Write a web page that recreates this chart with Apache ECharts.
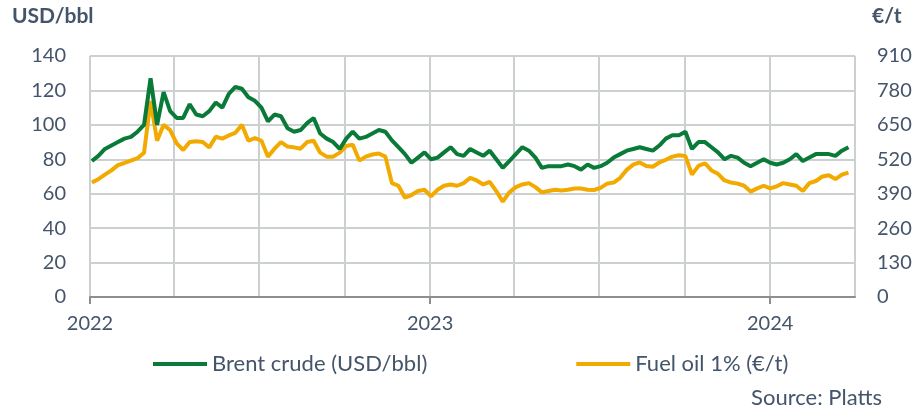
<!DOCTYPE html>
<html>
<head>
<meta charset="utf-8">
<script src="https://cdn.jsdelivr.net/npm/echarts@6/dist/echarts.min.js"></script>
<style>
  html, body { margin: 0; padding: 0; background: #fff; }
  #chart { width: 917px; height: 408px; }
</style>
</head>
<body>
<div id="chart"></div>
<script>
// weekly readings, first week starts 2022-01-03
const firstWeek = '2022-01-03'
const brentUsd = [
  79, 82, 86, 88, 90, 92, 93, 96, 100, 127, 100, 119, 108, 104, 104, 112, 106, 105, 108, 113,
  110, 118, 122, 121, 116, 114, 110, 102, 106, 105, 98, 96, 97, 101, 104, 95, 92, 90, 86, 92,
  96, 92, 93, 95, 97, 96, 91, 87, 83, 78, 81, 84, 80, 81, 84, 87, 83, 82, 86, 84,
  82, 85, 80, 75, 79, 83, 87, 85, 81, 75, 76, 76, 76, 77, 76, 74, 77, 75, 76, 78,
  81, 83, 85, 86, 87, 86, 85, 88, 92, 94, 94, 96, 86, 90, 90, 87, 84, 80, 82, 81,
  78, 76, 78, 80, 78, 77, 78, 80, 83, 79, 81, 83, 83, 83, 82, 85, 87
]
const fuelOilEur = [
  432, 445, 462, 478, 498, 506, 515, 524, 545, 740, 590, 650, 630, 580, 555, 585, 588, 585, 565, 605,
  598, 610, 620, 650, 590, 600, 590, 530, 560, 585, 568, 565, 560, 585, 590, 545, 530, 530, 545, 570,
  575, 515, 530, 538, 542, 530, 430, 420, 375, 385, 400, 405, 380, 405, 420, 425, 420, 430, 450, 440,
  425, 435, 400, 360, 395, 415, 425, 430, 415, 395, 400, 405, 402, 405, 410, 410, 405, 404, 412, 428,
  432, 450, 480, 500, 508, 495, 492, 508, 518, 530, 535, 532, 462, 495, 505, 478, 465, 440, 432, 428,
  420, 398, 410, 420, 410, 418, 430, 425, 420, 400, 430, 438, 455, 460, 445, 462, 470
]
const axisStart = '2022-01-01'
const axisEnd = '2024-04-01'
const usdTicks = [0, 140, 20]   // min, max, step
const eurTicks = [0, 910, 130]

const textColor = '#44546A'
const font = 'Lato'

const fmt = (d) => d.toISOString().slice(0, 10)
const dayMs = 24 * 3600 * 1000

// daily categories so quarter lines sit on the right day
const days = []
for (let t = Date.parse(axisStart + 'T00:00:00Z'); t <= Date.parse(axisEnd + 'T00:00:00Z'); t += dayMs) {
  days.push(fmt(new Date(t)))
}
const weekDates = brentUsd.map((_, i) => fmt(new Date(Date.parse(firstWeek + 'T00:00:00Z') + i * 7 * dayMs)))

const isYearStart = (d) => d.slice(5) === '01-01'
const isQuarterStart = (d) => ['01-01', '04-01', '07-01', '10-01'].includes(d.slice(5))

const chart = echarts.init(document.getElementById('chart'))

const option = {
  animation: false,
  textStyle: { fontFamily: font, color: textColor },
  grid: { left: 90, right: 62, top: 56, bottom: 111, containLabel: false },
  legend: {
    left: 153,
    top: 353,
    padding: 0,
    itemGap: 149,
    itemWidth: 54,
    itemHeight: 4,
    icon: 'rect',
    textStyle: { fontFamily: font, fontSize: 22, color: textColor },
    data: ['Brent crude (USD/bbl)', 'Fuel oil 1% (€/t)']
  },
  xAxis: {
    type: 'category',
    boundaryGap: false,
    data: days,
    axisLine: { lineStyle: { color: '#8E8E8E', width: 2 } },
    axisTick: {
      show: true,
      length: 7,
      interval: (idx, v) => isYearStart(v),
      lineStyle: { color: '#8E8E8E', width: 2 }
    },
    axisLabel: {
      interval: (idx, v) => isYearStart(v),
      formatter: (v) => v.slice(0, 4),
      margin: 17,
      fontSize: 20,
      fontFamily: font,
      color: textColor
    },
    splitLine: {
      show: true,
      interval: (idx, v) => isQuarterStart(v),
      lineStyle: { color: '#CDD0D0', width: 2 }
    }
  },
  yAxis: [
    {
      type: 'value',
      min: usdTicks[0],
      max: usdTicks[1],
      interval: usdTicks[2],
      axisLine: { show: false },
      axisTick: { show: false },
      axisLabel: { margin: 24, fontSize: 20, fontFamily: font, color: textColor },
      splitLine: { lineStyle: { color: '#CDD0D0', width: 2 } }
    },
    {
      type: 'value',
      min: eurTicks[0],
      max: eurTicks[1],
      interval: eurTicks[2],
      axisLine: { show: false },
      axisTick: { show: false },
      axisLabel: { margin: 22, fontSize: 20, fontFamily: font, color: textColor },
      splitLine: { show: false }
    }
  ],
  series: [
    {
      name: 'Brent crude (USD/bbl)',
      type: 'line',
      yAxisIndex: 0,
      showSymbol: false,
      data: weekDates.map((d, i) => [d, brentUsd[i]]),
      lineStyle: { color: '#0A7A38', width: 4 },
      itemStyle: { color: '#0A7A38' },
      z: 3
    },
    {
      name: 'Fuel oil 1% (€/t)',
      type: 'line',
      yAxisIndex: 1,
      showSymbol: false,
      data: weekDates.map((d, i) => [d, fuelOilEur[i]]),
      lineStyle: { color: '#F2A900', width: 4 },
      itemStyle: { color: '#F2A900' },
      z: 2
    }
  ],
  graphic: [
    {
      type: 'text', left: 12, top: 6,
      style: { text: 'USD/bbl', fontFamily: font, fontSize: 21, fontWeight: 'bold', fill: textColor }
    },
    {
      type: 'text', left: 872, top: 6,
      style: { text: '€/t', fontFamily: font, fontSize: 21, fontWeight: 'bold', fill: textColor }
    },
    {
      type: 'text', right: 35, top: 387,
      style: { text: 'Source: Platts', fontFamily: font, fontSize: 22, fill: textColor }
    }
  ]
}

chart.setOption(option)
</script>
</body>
</html>
